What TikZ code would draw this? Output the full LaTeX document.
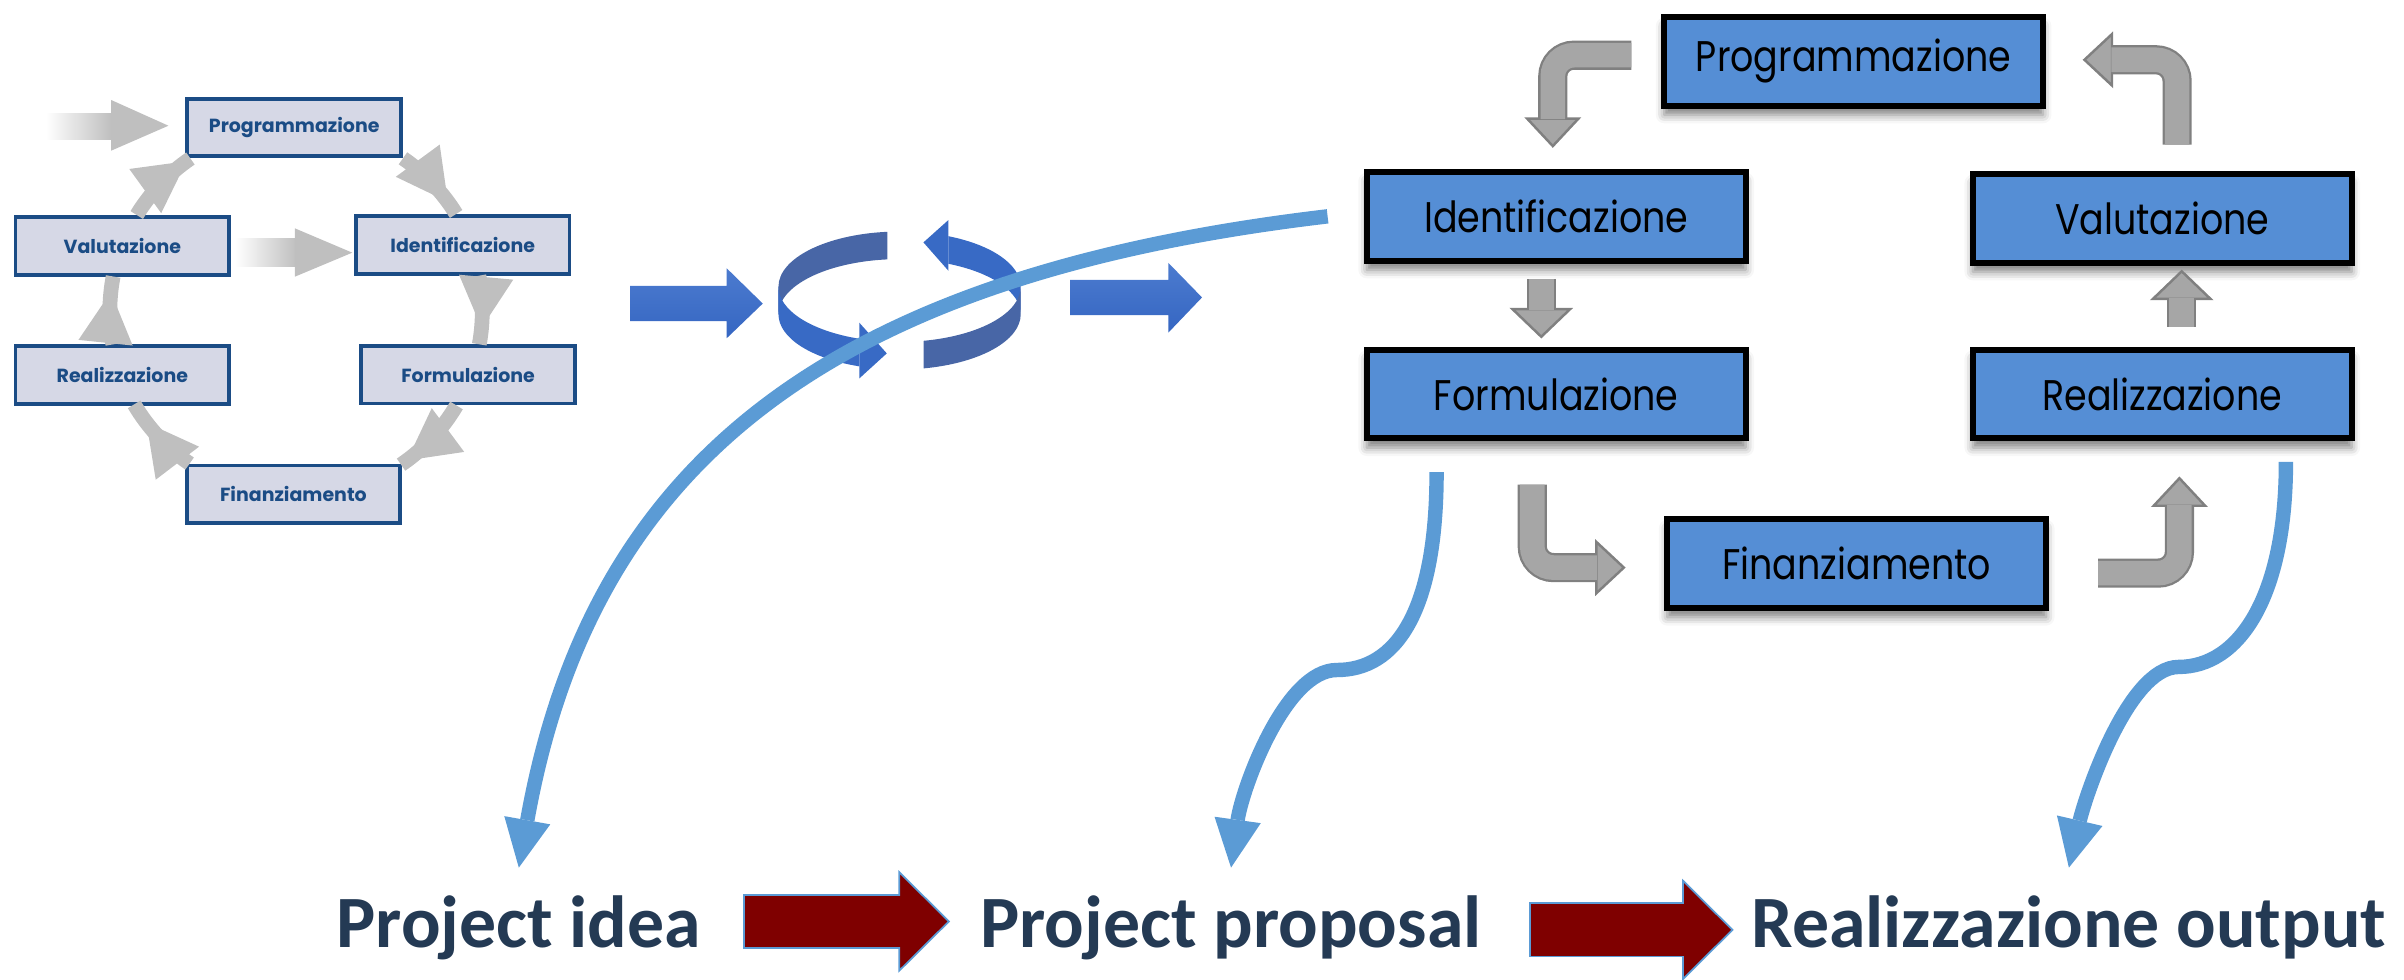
\documentclass[tikz,border=0pt]{standalone}
\usepackage{fontspec}
\usepackage{tikz}
\usetikzlibrary{arrows.meta, calc, positioning, shadows.blur, decorations.markings}

\newfontfamily\cyclefont{Poppins}
\newfontfamily\phasefont[FakeStretch=0.85]{Poppins}
\newfontfamily\stagefont{Carlito}

\definecolor{boxlight}{HTML}{D6D8E6}
\definecolor{boxnavy}{HTML}{1B4C85}
\definecolor{ringgray}{HTML}{BFBFBF}
\definecolor{phaseblue}{HTML}{558ED5}
\definecolor{bentgray}{HTML}{A6A6A6}
\definecolor{bentedge}{HTML}{808080}
\definecolor{flowblue}{HTML}{5B9BD5}
\definecolor{iconblue}{HTML}{386AC5}
\definecolor{icondark}{HTML}{4866A6}
\definecolor{blockhi}{HTML}{4C7BCF}
\definecolor{blocklo}{HTML}{3566C2}
\definecolor{stagered}{HTML}{7F0000}
\definecolor{stagenavy}{HTML}{243A54}

\begin{document}
\begin{tikzpicture}[
            x=0.015332cm,
            y=-0.015332cm,
            cyclering/.style={draw=ringgray, line width=4.2pt, postaction={decorate},
                decoration={markings, mark=at position #1 with {\arrow{Triangle[length=14.5pt, width=15.5pt, line width=0pt]}}}},
            bentarrow/.style={draw=bentedge, line width=8.3pt, rounded corners=6pt,
                -{Triangle[length=8.7pt, width=#1, fill=bentgray, line width=0.7pt]},
                postaction={draw=bentgray, line width=7pt, -, shorten >=8.2pt}},
            bentarrow/.default=16.1pt,
            flowline/.style={draw=flowblue, line width=4.1pt, -{Triangle[length=13.7pt, width=13.3pt, line width=0pt]}},
            stagearrow/.style={draw=flowblue, line width=15.6pt,
                -{Triangle[length=14.7pt, width=29.1pt, fill=stagered, line width=0.5pt]},
                postaction={draw=stagered, line width=14.7pt, -, shorten >=13.6pt, shorten <=0.5pt}}
        ]
        \tikzstyle{cyclebox}=[rectangle, draw=boxnavy, line width=1.1pt, fill=boxlight, text=boxnavy,
            minimum width=60.8pt, minimum height=16.4pt, inner sep=0pt, font=\cyclefont\bfseries\fontsize{5.4}{6}\selectfont]
        \tikzstyle{phasebox}=[rectangle, draw=black, line width=1.7pt, fill=phaseblue, text=black,
            minimum width=107.8pt, minimum height=25.3pt, inner sep=0pt, font=\phasefont\fontsize{12.2}{14}\selectfont,
            blur shadow={shadow xshift=0pt, shadow yshift=-2.6pt, shadow blur radius=2.4pt, shadow opacity=50}]
        \tikzstyle{stagelabel}=[inner sep=0pt, anchor=base west, text=stagenavy, font=\stagefont\bfseries\fontsize{21}{25}\selectfont]

        \useasboundingbox (0,0) rectangle (1568,639);

        \node[cyclebox] (lprog) at (191.9,83.2) {Programmazione};
        \node[cyclebox] (lval) at (79.8,160.3) {Valutazione};
        \node[cyclebox] (liden) at (301.8,159.8) {Identificazione};
        \node[cyclebox] (lreal) at (79.8,244.7) {Realizzazione};
        \node[cyclebox] (lform) at (305.3,244.4) {Formulazione};
        \node[cyclebox] (lfin) at (191.4,322.4) {Finanziamento};

        \draw[cyclering=0.81] (lprog.south east) arc[start angle=-55.5, end angle=-31.6, x radius=121.5, y radius=121];
        \draw[cyclering=0.76] ([xshift=4.6pt]liden.south) arc[start angle=-11, end angle=10.3, x radius=121.5, y radius=121];
        \draw[cyclering=0.91] ([xshift=-3.3pt]lform.south) arc[start angle=30.4, end angle=55.6, x radius=121.5, y radius=121];
        \draw[cyclering=0.73] ([xshift=1.4pt]lfin.north west) arc[start angle=124.4, end angle=149.6, x radius=121.5, y radius=121];
        \draw[cyclering=0.77] ([xshift=-2.7pt]lreal.north) arc[start angle=169.7, end angle=190.8, x radius=121.5, y radius=121];
        \draw[cyclering=0.94] ([xshift=4.1pt]lval.north) arc[start angle=211.3, end angle=235.5, x radius=121.5, y radius=121];

        \coordinate (inflow) at (30,82.6);
        \shade[left color=white, right color=ringgray] ([shift={(0,-8.7)}]inflow) rectangle ([shift={(-48.5,8.1)}]lprog.west);
        \fill[ringgray] ([shift={(-48.5,-18)}]lprog.west) -- ([shift={(-11.1,-1.2)}]lprog.west) -- ([shift={(-48.5,15.1)}]lprog.west) -- cycle;
        \shade[left color=white, right color=ringgray] ([shift={(2.8,-4.8)}]lval.east) rectangle ([shift={(-37.3,14.2)}]liden.west);
        \fill[ringgray] ([shift={(-38.6,-10.9)}]liden.west) -- ([shift={(-1.1,5)}]liden.west) -- ([shift={(-38.6,20.7)}]liden.west) -- cycle;

        \shade[top color=blockhi, bottom color=blocklo] (411,186.5) -- (474,186.5) -- (474,175) -- (497.5,198) -- (474,220.6) -- (474,209.4) -- (411,209.4) -- cycle;
        \shade[top color=blockhi, bottom color=blocklo] (698,182.6) -- (762,182.6) -- (762,171.4) -- (784,194) -- (762,217) -- (762,205.5) -- (698,205.5) -- cycle;

        \fill[icondark] (507.75,187) arc[start angle=180, end angle=264.2, x radius=79, y radius=36] -- ++(0,18)
            arc[start angle=264.2, end angle=180, x radius=79, y radius=36] -- cycle;
        \fill[iconblue] (507.75,187) arc[start angle=180, end angle=109.4, x radius=79, y radius=36] -- ++(0,18)
            arc[start angle=109.4, end angle=180, x radius=79, y radius=36] -- cycle;
        \fill[iconblue] (560.5,210.5) -- (578.4,230.5) -- (560.5,246.8) -- cycle;
        \fill[iconblue] (665.75,187) arc[start angle=0, end angle=-66.2, x radius=79, y radius=36] -- ++(0,18)
            arc[start angle=-66.2, end angle=0, x radius=79, y radius=36] -- cycle;
        \fill[icondark] (665.75,187) arc[start angle=0, end angle=78.6, x radius=79, y radius=36] -- ++(0,18)
            arc[start angle=78.6, end angle=0, x radius=79, y radius=36] -- cycle;
        \fill[iconblue] (618.6,143.5) -- (602.3,158.1) -- (618.6,176.6) -- cycle;

        \node[phasebox] (rprog) at (1209,40) {Programmazione};
        \node[phasebox] (riden) at (1015,141.1) {Identificazione};
        \node[phasebox] (rval) at (1410.3,142.4) {Valutazione};
        \node[phasebox] (rform) at (1015,257) {Formulazione};
        \node[phasebox] (rreal) at (1410.3,257) {Realizzazione};
        \node[phasebox] (rfin) at (1211,367.6) {Finanziamento};

        \draw[bentarrow] ([shift={(-19.4,-4)}]rprog.west) -| ([shift={(-2.2,-13.7)}]riden.north);
        \draw[bentarrow=18pt] ([shift={(-9.7,9.9)}]riden.south) -- ([shift={(-9.7,-5.3)}]rform.north);
        \draw[bentarrow] ([shift={(-15.6,28.2)}]rform.south) |- ([shift={(-25.2,2.6)}]rfin.west);
        \draw[bentarrow] ([shift={(32,6.2)}]rfin.east) -| ([shift={(11.2,22.8)}]rreal.south);
        \draw[bentarrow=18pt] ([shift={(12.7,-13)}]rreal.north) -- ([shift={(12.7,2.5)}]rval.south);
        \draw[bentarrow] ([shift={(9.7,-17.2)}]rval.north) |- ([shift={(23.9,-1)}]rprog.east);

        \node[stagelabel] (idea) at (219,618) {Project idea};
        \node[stagelabel] (proposal) at (639,618) {Project proposal};
        \node[stagelabel] (output) at (1142,618) {Realizzazione output};

        \draw[stagearrow] ([shift={(27,-17)}]idea.base east) -- ([shift={(-19.3,-17)}]proposal.base west);
        \draw[stagearrow] ([shift={(30.6,-11.5)}]proposal.base east) -- ([shift={(-11.2,-11.5)}]output.base west);

        \draw[flowline] ([xshift=-10.3pt]riden.west) .. controls (536,180) and (385,305) .. ([yshift=7.8pt]idea.north);
        \draw[flowline] ([shift={(-78,20)}]rform.south) .. controls (937,400) and (910,437) .. (872,437)
            .. controls (838,437) and (810,515) .. ([yshift=7.8pt]proposal.north);
        \draw[flowline] ([shift={(-44.8,13.3)}]rreal.south east) .. controls (1491,390) and (1460,435) .. (1421,435)
            .. controls (1388,435) and (1360,520) .. ([yshift=7.8pt]output.north);
    \end{tikzpicture}
\end{document}
